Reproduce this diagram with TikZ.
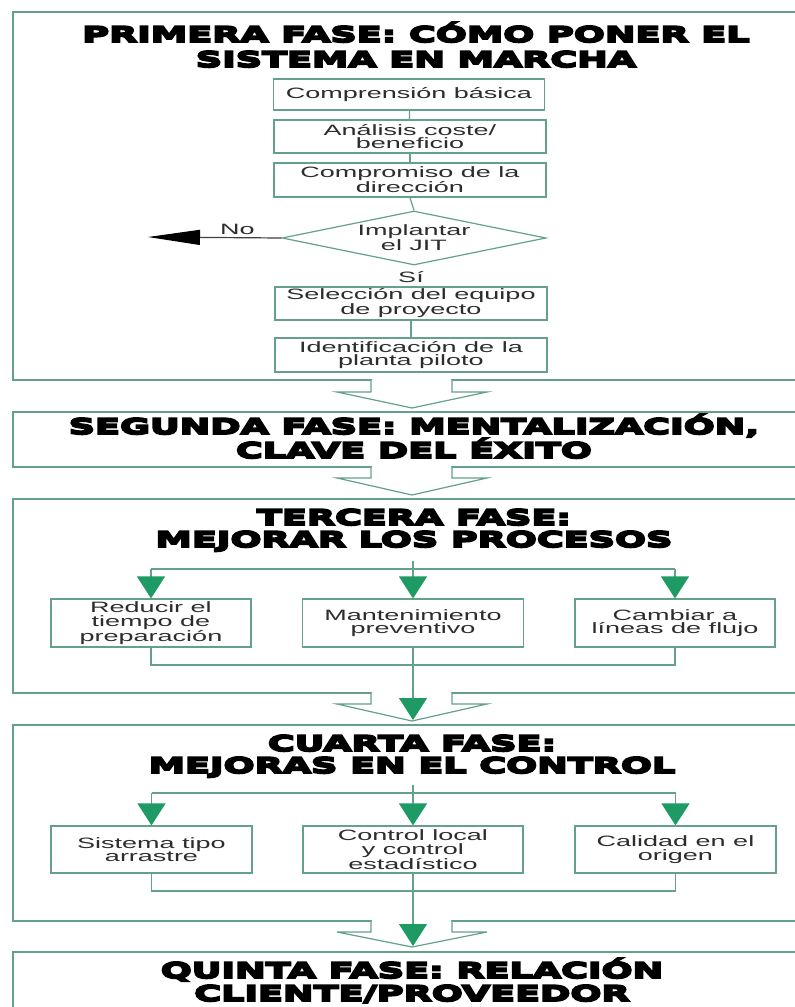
\documentclass[tikz,border=0pt]{standalone}
\usepackage{fontspec}
\setmainfont{Liberation Sans}
\newfontfamily\bodyf[FakeStretch=1.8]{Liberation Sans}
\newfontfamily\titlef[FakeStretch=1.70,FakeBold=9]{DejaVu Sans}
\usetikzlibrary{shapes.geometric,arrows.meta,calc}
\definecolor{boxc}{RGB}{100,160,140}
\definecolor{grn}{RGB}{30,155,100}
\definecolor{txt}{RGB}{45,45,45}
\tikzset{
  bigbox/.style={draw=boxc, line width=1.3pt, fill=white, inner sep=0pt},
  stepbox/.style={draw=boxc, line width=1.2pt, fill=white, inner sep=0pt,
    font=\bodyf\fontsize{15}{13.5}\selectfont, text=txt, align=center},
  decbox/.style={shape=diamond, shape aspect=4.85, draw=boxc, line width=1.2pt, fill=white, inner sep=0pt,
    font=\bodyf\fontsize{15}{13.5}\selectfont, text=txt, align=center},
  lbl/.style={font=\bodyf\fontsize{15}{13.5}\selectfont, text=txt, inner sep=1pt},
  ttl/.style={font=\titlef\bfseries\fontsize{21.5}{22}\selectfont, align=center, anchor=base, inner sep=0pt},
  conn/.style={draw=boxc, line width=1.2pt},
  garrow/.style={draw=boxc, line width=1.2pt, -{Triangle[length=22pt,width=28pt,color=grn]}},
  noarrow/.style={draw=black!75, line width=1.2pt, -{Triangle[length=52pt,width=15pt,color=black]}},
  hollow/.style={draw=boxc, line width=1.2pt, fill=white, line join=miter}
}
\newcommand\hollowarrow[3]{%
  \fill[white] (371.8,#1-1.5) rectangle (451.2,#1+1.5);
  \path[hollow] (371,#1) -- (371,#2) -- (337,#2) -- (412,#3) -- (487,#2) -- (452,#2) -- (452,#1);
}
\begin{document}
\begin{tikzpicture}[x=1pt,y=-1pt]
\useasboundingbox (0,0) rectangle (795,1007);
\clip (0,0) rectangle (795,1007);
\fill[white] (0,0) rectangle (795,1007);

% big phase boxes
\node[bigbox, minimum width=792pt, minimum height=368pt] (p1) at (409,196) {};
\node[bigbox, minimum width=792pt, minimum height=55pt] (p2) at (409,439.5) {};
\node[bigbox, minimum width=792pt, minimum height=194pt] (p3) at (409,596) {};
\node[bigbox, minimum width=792pt, minimum height=196pt] (p4) at (409,823) {};
\node[bigbox, minimum width=792pt, minimum height=80pt] (p5) at (409,992) {};

% titles (anchor base = last line baseline)
\node[ttl, font=\titlef\bfseries\fontsize{21.5}{25}\selectfont] (t1) at (416,67) {PRIMERA FASE: CÓMO PONER EL\\SISTEMA EN MARCHA};
\node[ttl] (t2) at (414,458) {SEGUNDA FASE: MENTALIZACIÓN,\\CLAVE DEL ÉXITO};
\node[ttl] (t3) at (414,547) {TERCERA FASE:\\MEJORAR LOS PROCESOS};
\node[ttl] (t4) at (412,773) {CUARTA FASE:\\MEJORAS EN EL CONTROL};
\node[ttl, font=\titlef\bfseries\fontsize{21.5}{23}\selectfont] (t5) at (412,1001) {QUINTA FASE: RELACIÓN\\CLIENTE/PROVEEDOR};

% phase 1 flow
\node[stepbox, minimum width=271pt, minimum height=31pt] (c1) at (409,94.5) {Comprensión básica};
\node[stepbox, minimum width=272pt, minimum height=33pt] (c2) at (410,136.5) {Análisis coste/\\beneficio};
\node[stepbox, minimum width=272pt, minimum height=34pt] (c3) at (410,180) {Compromiso de la\\dirección};
\node[decbox, minimum width=264pt, minimum height=54pt] (d) at (414,238) {Implantar\\el JIT};
\node[lbl] (si) at (411,277) {Sí};
\node[stepbox, minimum width=272pt, minimum height=33pt] (c4) at (411,303.5) {Selección del equipo\\de proyecto};
\node[stepbox, minimum width=272pt, minimum height=34pt] (c5) at (411,355) {Identificación de la\\planta piloto};
\draw[conn] (c1) -- (c2);
\draw[conn] (c2) -- (c3);
\draw[conn] (c3.south) -- (d.north);
\draw[conn] (c4) -- (c5);
\coordinate (noend) at (148,237);
\draw[noarrow] (d.west) -- node[lbl, pos=0.33, anchor=south, inner sep=2pt] (no) {No} (noend);

% hollow arrows between phases
\hollowarrow{380}{392}{408}
\hollowarrow{467}{478}{495}
\hollowarrow{693}{704}{721}
\hollowarrow{921}{932}{947}

% phase 3
\node[stepbox, minimum width=200pt, minimum height=48pt] (r1) at (151,623) {Reducir el\\tiempo de\\preparación};
\node[stepbox, minimum width=221pt, minimum height=48pt] (r2) at (413,623) {Mantenimiento\\preventivo};
\node[stepbox, minimum width=200pt, minimum height=48pt] (r3) at (675,623) {Cambiar a\\líneas de flujo};
\coordinate (s3) at (413,561);
\coordinate (j3) at (413,569);
\coordinate (b3) at (413,665);
\coordinate (e3) at (413,720);
\draw[conn] (s3) -- (j3);
\draw[conn] (r1.north |- j3) -- (r3.north |- j3);
\draw[garrow] (r1.north |- j3) -- (r1.north);
\draw[garrow] (j3) -- (r2.north);
\draw[garrow] (r3.north |- j3) -- (r3.north);
\draw[conn] (r1.south) -- (r1.south |- b3) -- (r3.south |- b3) -- (r3.south);
\draw[garrow] (r2.south) -- (e3);

% phase 4
\node[stepbox, minimum width=201pt, minimum height=47pt] (q1) at (151.5,849.5) {Sistema tipo\\arrastre};
\node[stepbox, minimum width=220pt, minimum height=47pt] (q2) at (413,849.5) {Control local\\y control\\estadístico};
\node[stepbox, minimum width=201pt, minimum height=47pt] (q3) at (675.5,849.5) {Calidad en el\\origen};
\coordinate (s4) at (413,785);
\coordinate (j4) at (413,793);
\coordinate (b4) at (413,891);
\coordinate (e4) at (413,946);
\draw[conn] (s4) -- (j4);
\draw[conn] (q1.north |- j4) -- (q3.north |- j4);
\draw[garrow] (q1.north |- j4) -- (q1.north);
\draw[garrow] (j4) -- (q2.north);
\draw[garrow] (q3.north |- j4) -- (q3.north);
\draw[conn] (q1.south) -- (q1.south |- b4) -- (q3.south |- b4) -- (q3.south);
\draw[garrow] (q2.south) -- (e4);
\end{tikzpicture}
\end{document}
